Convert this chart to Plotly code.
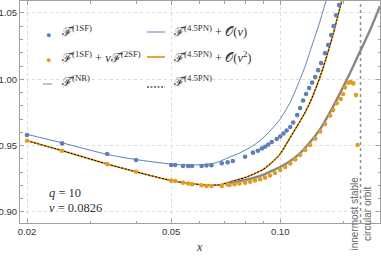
import math
import plotly.graph_objects as go

# ---------------- data ----------------
x_1sf = [0.0200, 0.0250, 0.0333, 0.0400, 0.0500, 0.0513, 0.0539, 0.0557, 0.0571, 0.0607,
         0.0626, 0.0646, 0.0690, 0.0716, 0.0740, 0.0800, 0.0841, 0.0868, 0.0890, 0.0908,
         0.0927, 0.0948, 0.0978, 0.1000, 0.1021, 0.1042, 0.1066, 0.1086, 0.1114, 0.1135,
         0.1157, 0.1179, 0.1202, 0.1225, 0.1249, 0.1273, 0.1297, 0.1330, 0.1356, 0.1382,
         0.1404, 0.1427, 0.1454]
f_1sf = [0.9580, 0.9517, 0.9437, 0.9392, 0.9354, 0.9354, 0.9346, 0.9346, 0.9346, 0.9346,
         0.9350, 0.9352, 0.9367, 0.9374, 0.9384, 0.9416, 0.9447, 0.9462, 0.9478, 0.9492,
         0.9508, 0.9527, 0.9550, 0.9569, 0.9591, 0.9614, 0.9640, 0.9674, 0.9730, 0.9783,
         0.9840, 0.9889, 0.9934, 0.9975, 1.0017, 1.0069, 1.0122, 1.0197, 1.0258, 1.0333,
         1.0401, 1.0483, 1.0559]

x_2sf = [0.0200, 0.0250, 0.0333, 0.0400, 0.0500, 0.0513, 0.0539, 0.0557, 0.0571, 0.0607,
         0.0626, 0.0646, 0.0690, 0.0716, 0.0725, 0.0748, 0.0772, 0.0800, 0.0826, 0.0852,
         0.0880, 0.0908, 0.0937, 0.0967, 0.1000, 0.1032, 0.1066, 0.1100, 0.1135, 0.1172,
         0.1210, 0.1249, 0.1289, 0.1330, 0.1373, 0.1400, 0.1433, 0.1469, 0.1491, 0.1510,
         0.1542, 0.1566, 0.1592, 0.1619, 0.1635]
f_2sf = [0.9537, 0.9462, 0.9361, 0.9303, 0.9236, 0.9233, 0.9221, 0.9215, 0.9209, 0.9202,
         0.9196, 0.9196, 0.9196, 0.9207, 0.9203, 0.9209, 0.9215, 0.9221, 0.9228, 0.9237,
         0.9247, 0.9259, 0.9275, 0.9294, 0.9316, 0.9339, 0.9365, 0.9395, 0.9429, 0.9467,
         0.9505, 0.9553, 0.9606, 0.9663, 0.9727, 0.9768, 0.9819, 0.9851, 0.9889, 0.9939,
         0.9974, 0.9979, 0.9969, 0.9881, 0.9505]

x_nr = [0.0716, 0.0748, 0.0800, 0.0852, 0.0908, 0.0967, 0.1000, 0.1066, 0.1135, 0.1210,
        0.1289, 0.1373, 0.1463, 0.1559, 0.1661, 0.1770, 0.1886]
f_nr = [0.9215, 0.9226, 0.9241, 0.9260, 0.9286, 0.9320, 0.9339, 0.9384, 0.9444, 0.9527,
        0.9625, 0.9753, 0.9896, 1.0047, 1.0209, 1.0370, 1.0551]

x_pn_nu = [0.0200, 0.0250, 0.0333, 0.0400, 0.0500, 0.0563, 0.0621, 0.0668, 0.0725, 0.0772,
           0.0826, 0.0880, 0.0937, 0.1000, 0.1066, 0.1121, 0.1172, 0.1225, 0.1273, 0.1330,
           0.1356]
f_pn_nu = [0.9585, 0.9521, 0.9434, 0.9395, 0.9361, 0.9354, 0.9358, 0.9373, 0.9414, 0.9444,
           0.9486, 0.9538, 0.9610, 0.9700, 0.9828, 0.9964, 1.0099, 1.0258, 1.0393, 1.0566,
           1.0642]

x_pn_nu2 = [0.0200, 0.0250, 0.0333, 0.0400, 0.0500, 0.0563, 0.0621, 0.0682, 0.0725, 0.0800,
            0.0852, 0.0897, 0.0948, 0.1000, 0.1052, 0.1114, 0.1165, 0.1210, 0.1264, 0.1313,
            0.1400, 0.1482]
f_pn_nu2 = [0.9537, 0.9462, 0.9361, 0.9303, 0.9237, 0.9215, 0.9203, 0.9205, 0.9226, 0.9260,
            0.9290, 0.9320, 0.9373, 0.9437, 0.9535, 0.9648, 0.9738, 0.9828, 0.9956, 1.0084,
            1.0340, 1.0604]

x_pn = list(x_pn_nu2)
f_pn = list(f_pn_nu2)

x_isco = 1.0 / 6.0
q_val = "10"
nu_val = "0.0826"

x_ticks = [0.02, 0.05, 0.10]
x_ticktext = ["0.02", "0.05", "0.10"]
x_minor = [0.03, 0.04, 0.06, 0.07, 0.08, 0.09, 0.15]
y_ticks = [0.90, 0.95, 1.00, 1.05]
y_ticktext = ["0.90", "0.95", "1.00", "1.05"]
y_minor = [0.89, 0.91, 0.92, 0.93, 0.94, 0.96, 0.97, 0.98, 0.99, 1.01, 1.02, 1.03, 1.04]

x_range = [0.01913, 0.1886]
y_range = [0.8917, 1.059]

# ---------------- styles ----------------
BLUE = "rgb(94,129,181)"
ORANGE = "rgb(225,156,36)"
GRAY = "rgb(135,135,135)"
SERIF = "Liberation Serif, DejaVu Serif, serif"
SANS = "Liberation Sans, Arial, sans-serif"

fig = go.Figure()
fig.add_trace(go.Scatter(x=[x_isco, x_isco], y=y_range, mode="lines",
                         line=dict(color="rgb(150,150,150)", width=1.6, dash="dot"),
                         showlegend=False, hoverinfo="skip"))
fig.add_trace(go.Scatter(x=x_pn_nu, y=f_pn_nu, mode="lines",
                         line=dict(color=BLUE, width=1, shape="spline", smoothing=0.6),
                         showlegend=False))
fig.add_trace(go.Scatter(x=x_pn_nu2, y=f_pn_nu2, mode="lines",
                         line=dict(color=ORANGE, width=1.8, shape="spline", smoothing=0.6),
                         showlegend=False))
fig.add_trace(go.Scatter(x=x_pn, y=f_pn, mode="lines",
                         line=dict(color="black", width=1, dash="2px,1.5px", shape="spline", smoothing=0.6),
                         showlegend=False))
fig.add_trace(go.Scatter(x=x_nr, y=f_nr, mode="lines",
                         line=dict(color=GRAY, width=2.4, shape="spline", smoothing=0.6),
                         showlegend=False))
fig.add_trace(go.Scatter(x=x_1sf, y=f_1sf, mode="markers",
                         marker=dict(color=BLUE, size=4.6, line=dict(width=0)),
                         showlegend=False))
fig.add_trace(go.Scatter(x=x_2sf, y=f_2sf, mode="markers",
                         marker=dict(color=ORANGE, size=4.6, line=dict(width=0)),
                         showlegend=False))

W, H = 381, 256
L, R, T, B = 20, 1, 1, 33
pw, ph = W - L - R, H - T - B


def px(xp):
    return (xp - L) / pw


def py(yp):
    return (H - B - yp) / ph


F = "ℱ̂"
legend_rows = [
    (33, f"{F}<sup>(1SF)</sup>", f"{F}<sup>(4.5PN)</sup> + 𝒪(<i>ν</i>)"),
    (59, f"{F}<sup>(1SF)</sup> + <i>ν</i>{F}<sup>(2SF)</sup>", f"{F}<sup>(4.5PN)</sup> + 𝒪(<i>ν</i><sup>2</sup>)"),
    (83, f"{F}<sup>(NR)</sup>", f"{F}<sup>(4.5PN)</sup>"),
]
annotations = []
shapes = []
for yrow, t1, t2 in legend_rows:
    annotations.append(dict(xref="paper", yref="paper", x=px(59), y=py(yrow - 2), text=t1,
                            showarrow=False, xanchor="left", yanchor="middle",
                            font=dict(family=SERIF, size=12.5, color="#333")))
    annotations.append(dict(xref="paper", yref="paper", x=px(171), y=py(yrow - 2), text=t2,
                            showarrow=False, xanchor="left", yanchor="middle",
                            font=dict(family=SERIF, size=12.5, color="#333")))

# legend symbols
annotations.append(dict(xref="paper", yref="paper", x=px(48), y=py(34), text="●", showarrow=False,
                        font=dict(size=9, color=BLUE), xanchor="center", yanchor="middle"))
annotations.append(dict(xref="paper", yref="paper", x=px(48), y=py(60), text="●", showarrow=False,
                        font=dict(size=9, color=ORANGE), xanchor="center", yanchor="middle"))
shapes.append(dict(type="line", xref="paper", yref="paper", x0=px(43), x1=px(52), y0=py(84), y1=py(84),
                   line=dict(color="rgb(165,165,165)", width=1.4)))
shapes.append(dict(type="line", xref="paper", yref="paper", x0=px(147), x1=px(165), y0=py(32), y1=py(32),
                   line=dict(color=BLUE, width=1)))
shapes.append(dict(type="line", xref="paper", yref="paper", x0=px(147), x1=px(165), y0=py(57), y1=py(57),
                   line=dict(color=ORANGE, width=1.8)))
shapes.append(dict(type="line", xref="paper", yref="paper", x0=px(147), x1=px(165), y0=py(87), y1=py(87),
                   line=dict(color="black", width=1, dash="2px,1.5px")))

annotations.append(dict(xref="paper", yref="paper", x=px(47), y=py(193), text=f"<i>q</i> = {q_val}",
                        showarrow=False, xanchor="left", yanchor="middle",
                        font=dict(family=SERIF, size=12.5, color="#333")))
annotations.append(dict(xref="paper", yref="paper", x=px(47), y=py(208), text=f"<i>ν</i> = {nu_val}",
                        showarrow=False, xanchor="left", yanchor="middle",
                        font=dict(family=SERIF, size=12.5, color="#333")))
annotations.append(dict(xref="x", yref="paper", x=math.log10(x_isco), y=py(214),
                        text="innermost stable<br>circular orbit", textangle=-90,
                        showarrow=False, xanchor="center", yanchor="middle",
                        font=dict(family=SANS, size=10, color="#666")))
annotations.append(dict(xref="paper", yref="paper", x=px(199), y=py(247), text="<i>x</i>",
                        showarrow=False, xanchor="center", yanchor="middle",
                        font=dict(family=SERIF, size=12, color="#333")))

axis_common = dict(showline=True, linecolor="rgb(160,160,160)", linewidth=1, mirror="ticks",
                   ticks="inside", ticklen=4, tickcolor="rgb(160,160,160)",
                   showgrid=True, gridcolor="rgb(220,220,220)", griddash="dot", gridwidth=1,
                   zeroline=False, automargin=False,
                   tickfont=dict(family=SANS, size=9.5, color="#333"))

fig.update_layout(
    width=W, height=H,
    margin=dict(l=L, r=R, t=T, b=B),
    paper_bgcolor="white", plot_bgcolor="white",
    showlegend=False,
    annotations=annotations,
    shapes=shapes,
    xaxis=dict(type="log", range=[math.log10(x_range[0]), math.log10(x_range[1])],
               tickmode="array", tickvals=x_ticks, ticktext=x_ticktext,
               minor=dict(tickmode="array", tickvals=x_minor, ticks="inside", ticklen=2.5,
                          tickcolor="rgb(160,160,160)", showgrid=False),
               **axis_common),
    yaxis=dict(range=y_range, tickmode="array", tickvals=y_ticks, ticktext=y_ticktext,
               ticklabelstandoff=0,
               minor=dict(tickmode="array", tickvals=y_minor, ticks="inside", ticklen=2.5,
                          tickcolor="rgb(160,160,160)", showgrid=False),
               **axis_common),
)

fig.write_html("out.html", config={"displayModeBar": False},
               post_script="document.body.style.margin='0';document.body.style.padding='0';")
